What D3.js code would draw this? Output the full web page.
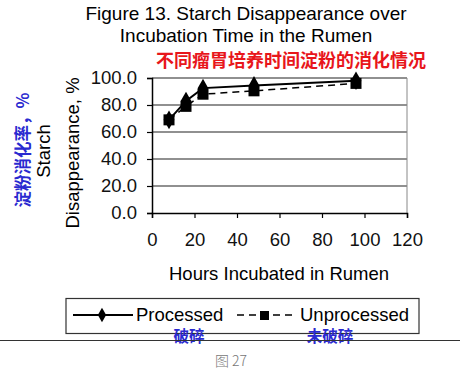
<!DOCTYPE html>
<html>
<head>
<meta charset="utf-8">
<script src="https://cdn.jsdelivr.net/npm/d3@7"></script>
<style>
  body { margin: 0; background: #fff; }
  svg { display: block; font-family: "Liberation Sans", Arial, sans-serif; }
</style>
</head>
<body>
<svg id="chart" width="467" height="372"></svg>
<script>
const hours = [8, 16, 24, 48, 96]
const processed = [69, 83, 92.5, 94.5, 98]
const unprocessed = [69, 79, 88, 90.5, 96]
const xTicks = [0, 20, 40, 60, 80, 100, 120]
const yTicks = [0, 20, 40, 60, 80, 100]

const svg = d3.select('#chart')
const x = d3.scaleLinear().domain([0, 120]).range([152, 407])
const y = d3.scaleLinear().domain([0, 100]).range([213, 78])

// title
svg.append('text').attr('x', 246).attr('y', 20).attr('text-anchor', 'middle')
  .attr('font-size', 19).text('Figure 13. Starch Disappearance over')
svg.append('text').attr('x', 246).attr('y', 42).attr('text-anchor', 'middle')
  .attr('font-size', 19).text('Incubation Time in the Rumen')
svg.append('text').attr('x', 291).attr('y', 67).attr('text-anchor', 'middle')
  .attr('font-size', 18).attr('font-weight', 'bold').attr('fill', '#e8161b')
  .attr('font-family', '"Noto Sans CJK SC"').text('不同瘤胃培养时间淀粉的消化情况')

// grid lines and frame
svg.append('g').selectAll('line').data(yTicks.slice(1)).enter().append('line')
  .attr('x1', x(0)).attr('x2', x(120))
  .attr('y1', d => y(d)).attr('y2', d => y(d))
  .attr('stroke', '#222').attr('stroke-width', 1.2)
svg.append('line').attr('x1', x(120)).attr('x2', x(120)).attr('y1', y(100)).attr('y2', y(0))
  .attr('stroke', '#888').attr('stroke-width', 1)

// axes
const xAxis = svg.append('g').attr('transform', `translate(0,${y(0)})`)
  .call(d3.axisBottom(x).tickValues(xTicks).tickSize(5).tickPadding(15))
const yAxis = svg.append('g').attr('transform', `translate(${x(0)},0)`)
  .call(d3.axisLeft(y).tickValues(yTicks).tickFormat(d3.format('.1f')).tickSize(5).tickPadding(10))
for (const ax of [xAxis, yAxis]) {
  ax.select('.domain').attr('stroke', '#000').attr('stroke-width', 1.5)
  ax.selectAll('.tick line').attr('stroke', '#000').attr('stroke-width', 1.2)
  ax.selectAll('text').attr('font-size', 18.5).attr('fill', '#111')
    .attr('font-family', '"Liberation Sans", Arial, sans-serif')
}

// axis titles
svg.append('text').attr('x', 169).attr('y', 280)
  .attr('font-size', 18.5).text('Hours Incubated in Rumen')
svg.append('text').attr('transform', 'translate(50,151) rotate(-90)').attr('text-anchor', 'middle')
  .attr('font-size', 18.5).text('Starch')
svg.append('text').attr('transform', 'translate(79,153) rotate(-90)').attr('text-anchor', 'middle')
  .attr('font-size', 18.5).text('Disappearance, %')
svg.append('text').attr('transform', 'translate(29,150) rotate(-90)').attr('text-anchor', 'middle')
  .attr('font-size', 16.5).attr('font-weight', 'bold').attr('fill', '#2a2ad0')
  .attr('font-family', '"Noto Sans CJK SC"').text('淀粉消化率，%')

// series
const line = d3.line().x((d, i) => x(hours[i])).y(d => y(d))
svg.append('path').datum(unprocessed).attr('d', line).attr('fill', 'none')
  .attr('stroke', '#000').attr('stroke-width', 1.5).attr('stroke-dasharray', '7,5')
svg.append('path').datum(processed).attr('d', line).attr('fill', 'none')
  .attr('stroke', '#000').attr('stroke-width', 2)
svg.append('g').selectAll('rect').data(unprocessed).enter().append('rect')
  .attr('x', (d, i) => x(hours[i]) - 5.5).attr('y', d => y(d) - 5.5)
  .attr('width', 11).attr('height', 11).attr('fill', '#000')
svg.append('g').selectAll('path').data(processed).enter().append('path')
  .attr('d', d3.symbol().type(d3.symbolDiamond).size(100))
  .attr('transform', (d, i) => `translate(${x(hours[i])},${y(d)})`).attr('fill', '#000')

// legend
svg.append('rect').attr('x', 66).attr('y', 298.5).attr('width', 353).attr('height', 35)
  .attr('fill', '#fff').attr('stroke', '#333').attr('stroke-width', 1.2)
svg.append('line').attr('x1', 73).attr('x2', 133).attr('y1', 315).attr('y2', 315)
  .attr('stroke', '#000').attr('stroke-width', 1.8)
svg.append('path').attr('d', d3.symbol().type(d3.symbolDiamond).size(60))
  .attr('transform', 'translate(102,315)').attr('fill', '#000')
svg.append('text').attr('x', 136).attr('y', 321).attr('font-size', 18.5).text('Processed')
svg.append('line').attr('x1', 237).attr('x2', 297).attr('y1', 315).attr('y2', 315)
  .attr('stroke', '#000').attr('stroke-width', 1.5).attr('stroke-dasharray', '7,5')
svg.append('rect').attr('x', 260).attr('y', 311).attr('width', 9).attr('height', 9).attr('fill', '#000')
svg.append('text').attr('x', 300).attr('y', 321).attr('font-size', 18.5).text('Unprocessed')
svg.append('text').attr('x', 189).attr('y', 341.5).attr('text-anchor', 'middle')
  .attr('font-size', 15.5).attr('font-weight', 'bold').attr('fill', '#2a2ad0')
  .attr('font-family', '"Noto Sans CJK SC"').text('破碎')
svg.append('text').attr('x', 330).attr('y', 341.5).attr('text-anchor', 'middle')
  .attr('font-size', 15.5).attr('font-weight', 'bold').attr('fill', '#2a2ad0')
  .attr('font-family', '"Noto Sans CJK SC"').text('未破碎')

// footer
svg.append('line').attr('x1', 0).attr('x2', 460).attr('y1', 340.5).attr('y2', 340.5)
  .attr('stroke', '#333').attr('stroke-width', 1)
svg.append('text').attr('x', 215).attr('y', 366)
  .attr('font-size', 14).attr('font-weight', 300).attr('fill', '#777')
  .attr('font-family', '"Noto Sans CJK SC"').text('图 27')
</script>
</body>
</html>
